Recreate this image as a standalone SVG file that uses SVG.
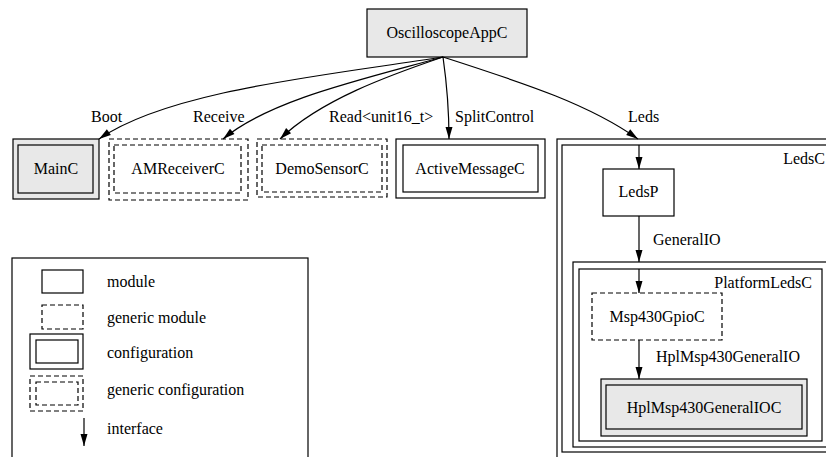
<svg xmlns="http://www.w3.org/2000/svg" width="826" height="457" viewBox="0 0 826 457" font-family="'Liberation Serif', 'DejaVu Serif', serif">
<style>
  text { font-family: "Liberation Serif", "DejaVu Serif", serif; font-size: 16px; fill: #000; }
  .c { text-anchor: middle; }
  .e { text-anchor: end; }
  .box { fill: #fff; stroke: #000; stroke-width: 1.2; }
  .gray { fill: #e8e8e8; }
  .dash { stroke-dasharray: 5,3; }
  .none { fill: none; }
  .edge { fill: none; stroke: #000; stroke-width: 1.2; marker-end: url(#arr); }
</style>
<defs>
  <marker id="arr" markerUnits="userSpaceOnUse" markerWidth="12" markerHeight="8" refX="12" refY="4" orient="auto" overflow="visible">
    <path d="M0,0.5 L12,4 L0,7.5 z" fill="#000"/>
  </marker>
</defs>
<rect width="826" height="457" fill="#fff"/>

<g id="LedsC">
  <rect class="box" x="557" y="139" width="300" height="340"/>
  <rect class="box none" x="562" y="145" width="290" height="307"/>
  <text class="e" x="825" y="164">LedsC</text>
</g>
<g id="PlatformLedsC">
  <rect class="box" x="573" y="262" width="255" height="185"/>
  <rect class="box none" x="579" y="269" width="243" height="172"/>
  <text class="e" x="812" y="288">PlatformLedsC</text>
</g>

<g id="OscilloscopeAppC">
  <rect class="box gray" x="367" y="9" width="160" height="48"/>
  <text class="c" x="447" y="38">OscilloscopeAppC</text>
</g>
<g id="MainC">
  <rect class="box gray" x="13" y="139" width="86" height="60"/>
  <rect class="box gray" x="18" y="145" width="75" height="48"/>
  <text class="c" x="56" y="174">MainC</text>
</g>
<g id="AMReceiverC">
  <rect class="box dash" x="109" y="139" width="139" height="61"/>
  <rect class="box dash none" x="114" y="145" width="127" height="48"/>
  <text class="c" x="178" y="174">AMReceiverC</text>
</g>
<g id="DemoSensorC">
  <rect class="box dash" x="257" y="139" width="130" height="58"/>
  <rect class="box dash none" x="262" y="145" width="120" height="47"/>
  <text class="c" x="322" y="174">DemoSensorC</text>
</g>
<g id="ActiveMessageC">
  <rect class="box" x="396" y="139" width="149" height="59"/>
  <rect class="box none" x="403" y="145" width="135" height="47"/>
  <text class="c" x="470" y="174">ActiveMessageC</text>
</g>
<g id="LedsP">
  <rect class="box" x="603" y="169" width="71" height="47"/>
  <text class="c" x="638.5" y="197">LedsP</text>
</g>
<g id="Msp430GpioC">
  <rect class="box dash" x="592" y="293" width="130" height="47"/>
  <text class="c" x="657" y="322">Msp430GpioC</text>
</g>
<g id="HplMsp430GeneralIOC">
  <rect class="box gray" x="601" y="379" width="206" height="57"/>
  <rect class="box gray" x="606" y="385" width="196" height="44"/>
  <text class="c" x="704" y="413">HplMsp430GeneralIOC</text>
</g>

<g id="connectors">
  <path class="edge" d="M443,57 C330,75 170,90 99,139"/>
  <path class="edge" d="M443,57 C360,80 270,100 223,139"/>
  <path class="edge" d="M443,57 C390,75 320,100 280,139"/>
  <path class="edge" d="M443,57 C447,85 449,110 449,139"/>
  <path class="edge" d="M443,57 C530,85 590,105 638,139"/>
  <path class="edge" d="M639,145 L639,169"/>
  <path class="edge" d="M639,216 L639,262"/>
  <path class="edge" d="M639,269 L639,293"/>
  <path class="edge" d="M639,340 L639,379"/>
  <text x="91" y="122">Boot</text>
  <text x="193" y="122">Receive</text>
  <text x="329" y="122">Read&lt;unit16_t&gt;</text>
  <text x="455" y="122">SplitControl</text>
  <text x="628" y="122">Leds</text>
  <text x="653" y="245">GeneralIO</text>
  <text x="656" y="362">HplMsp430GeneralIO</text>
</g>

<g id="legend">
  <rect class="box" x="12" y="258" width="296" height="220"/>
  <rect class="box" x="42" y="270" width="41" height="23"/>
  <text x="107" y="287">module</text>
  <rect class="box dash" x="42" y="305" width="41" height="24"/>
  <text x="107" y="323">generic module</text>
  <rect class="box" x="30" y="334" width="53" height="35"/>
  <rect class="box" x="36" y="340" width="42" height="23"/>
  <text x="107" y="358">configuration</text>
  <rect class="box dash" x="30" y="376" width="53" height="35"/>
  <rect class="box dash" x="36" y="382" width="42" height="23"/>
  <text x="107" y="395">generic configuration</text>
  <path class="edge" d="M84,418 L84,446"/>
  <text x="107" y="434">interface</text>
</g>
</svg>
